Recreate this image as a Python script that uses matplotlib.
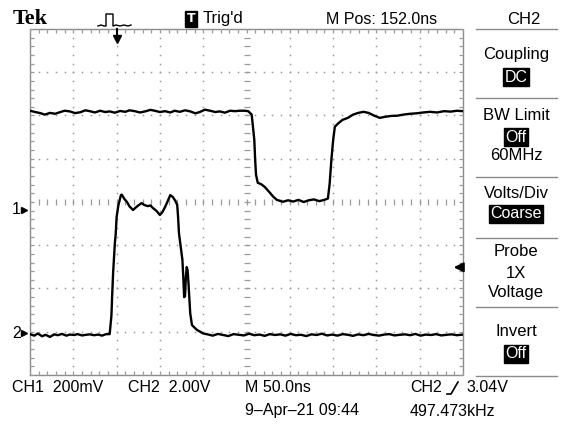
import matplotlib
matplotlib.use('Agg')
import matplotlib.pyplot as plt
import numpy as np

W, H = 571, 428
NARROW = ['Liberation Sans', 'DejaVu Sans']

# scope settings
ns_per_div = 50
ch1_v_per_div = 0.2
ch2_v_per_div = 2.0
ch1_ground_div = -0.18
ch2_ground_div = -3.03
trig_pos_ns = 100
trig_level_v = 3.04

# CH1 trace (time in ns, mV)
ch1_t = [0, 6, 12, 17, 23, 29, 35, 40, 46, 52, 58, 64, 69, 75, 81, 87, 92, 98, 104, 110,
         115, 121, 127, 133, 139, 144, 150, 156, 162, 167, 173, 179, 185, 191, 196, 202, 208, 214, 219, 225,
         231, 237, 242, 248, 252, 256, 259, 260, 261, 263, 267, 271, 277, 281, 285, 292, 298, 304, 310, 316,
         322, 328, 334, 340, 344, 346, 348, 350, 352, 356, 361, 367, 373, 379, 385, 391, 397, 404, 410, 417,
         424, 431, 439, 446, 454, 462, 470, 478, 486, 493, 500]
ch1_mv = [458, 452, 447, 440, 448, 444, 452, 458, 455, 447, 451, 460, 456, 450, 458, 452, 455, 449, 457, 453,
          460, 456, 450, 455, 462, 458, 452, 456, 450, 458, 453, 460, 455, 446, 452, 463, 458, 452, 455, 449,
          458, 456, 458, 458, 456, 440, 324, 231, 162, 125, 118, 106, 79, 60, 46, 37, 44, 38, 46, 36,
          44, 48, 40, 46, 52, 120, 230, 320, 384, 400, 416, 425, 440, 448, 453, 448, 436, 425, 430, 434,
          435, 440, 444, 446, 450, 453, 450, 456, 454, 458, 456]

# CH2 trace (time in ns, V)
ch2_t = [0, 5, 9, 14, 18, 23, 28, 32, 37, 42, 46, 51, 55, 60, 65, 69, 74, 79, 83, 88,
         92, 94, 95, 96, 98, 99, 100, 102, 105, 106, 109, 112, 115, 119, 122, 125, 129, 132, 136, 139,
         142, 146, 150, 153, 156, 159, 162, 165, 168, 170, 171, 172, 174, 176, 177, 178, 179, 180, 181, 182,
         183, 185, 187, 190, 193, 197, 200,
         205, 211, 217, 223, 229, 235, 241, 247, 253, 259, 265, 271, 277, 283, 289, 295, 301, 307, 313, 319,
         325, 331, 337, 343, 349, 355, 361, 367, 373, 379, 385, 391, 397, 403, 409, 415, 421, 427, 433, 439,
         445, 451, 457, 463, 469, 475, 481, 487, 493, 500]
ch2_v = [-0.05, -0.12, -0.02, -0.15, -0.08, -0.18, -0.06, -0.10, -0.04, -0.12, -0.07, -0.09, -0.05, -0.11, -0.08, -0.06, -0.10, -0.07, -0.12, -0.05,
         -0.05, 0.8, 1.85, 2.8, 4.16, 4.6, 5.36, 5.9, 6.38, 6.40, 6.2, 6.06, 5.85, 5.69, 5.8, 5.9, 6.01, 5.92, 5.87, 5.9,
         5.78, 5.65, 5.46, 5.6, 5.83, 6.1, 6.38, 6.29, 6.1, 5.92, 5.36, 4.62, 4.0, 3.38, 2.59, 1.66, 1.7, 2.6, 3.05, 2.9,
         2.31, 0.92, 0.37, 0.25, 0.14, 0.05, -0.02,
         -0.06, -0.12, -0.04, -0.09, -0.14, -0.05, -0.08, -0.11, -0.03, -0.10, -0.07, -0.13, -0.05, -0.09, -0.06, -0.12, -0.04, -0.10, -0.08, -0.14,
         -0.06, -0.09, -0.03, -0.11, -0.07, -0.12, -0.05, -0.08, -0.13, -0.06, -0.10, -0.04, -0.09, -0.12, -0.07, -0.05, -0.11, -0.08, -0.06, -0.10,
         -0.04, -0.12, -0.07, -0.09, -0.05, -0.11, -0.08, -0.06, -0.10, -0.07]

# side menu
menu = [('Coupling', 55, False), ('DC', 77, True),
        ('BW Limit', 115, False), ('Off', 137, True), ('60MHz', 156, False),
        ('Volts/Div', 193, False), ('Coarse', 214, True),
        ('Probe', 252, False), ('1X', 273, False), ('Voltage', 293, False),
        ('Invert', 332, False), ('Off', 354, True)]
menu_lines = [29, 98, 177, 238, 307, 376]


def fx(x):
    return x / W


def fy(y):
    return 1 - y / H


fig = plt.figure(figsize=(W / 100, H / 100), dpi=100)
ax = fig.add_axes([fx(30), fy(375), 433 / W, 346 / H])
ax.set_xlim(0, 10 * ns_per_div)
ax.set_ylim(-4, 4)
ax.axis('off')

grid_c = '#9a9a9a'
xs_fine = np.arange(0, 10.01, 0.2) * ns_per_div
ys_fine = np.arange(-4, 4.01, 0.2)

# dotted graticule
for i in range(1, 10):
    if i == 5:
        continue
    ax.plot(np.full_like(ys_fine, i * ns_per_div), ys_fine, ls='none', marker='s', ms=1.1, color=grid_c, mew=0)
for j in range(-3, 4):
    if j == 0:
        continue
    ax.plot(xs_fine, np.full_like(xs_fine, j), ls='none', marker='s', ms=1.1, color=grid_c, mew=0)

# centre cross with minor ticks
ax.plot(xs_fine, np.zeros_like(xs_fine), ls='none', marker='|', ms=5, color=grid_c, mew=0.9)
ax.plot(np.full_like(ys_fine, 5 * ns_per_div), ys_fine, ls='none', marker='_', ms=5, color=grid_c, mew=0.9)

# border with inward ticks
ax.plot([0, 500, 500, 0, 0], [-4, -4, 4, 4, -4], color='#8a8a8a', lw=1.0, clip_on=False)
ax.plot(xs_fine, np.full_like(xs_fine, 4), ls='none', marker='|', ms=6, color=grid_c, mew=0.9)
ax.plot(xs_fine, np.full_like(xs_fine, -4), ls='none', marker='|', ms=6, color=grid_c, mew=0.9)
ax.plot(np.zeros_like(ys_fine), ys_fine, ls='none', marker='_', ms=6, color=grid_c, mew=0.9)
ax.plot(np.full_like(ys_fine, 500), ys_fine, ls='none', marker='_', ms=6, color=grid_c, mew=0.9)

# traces
ch1_div = np.array(ch1_mv) / 1000 / ch1_v_per_div + ch1_ground_div
ch2_div = np.array(ch2_v) / ch2_v_per_div + ch2_ground_div
ax.plot(ch1_t, ch1_div, color='black', lw=1.7)
ax.plot(ch2_t, ch2_div, color='black', lw=1.7)

# trigger position / level markers
ax.plot([trig_pos_ns, trig_pos_ns], [4, 3.85], color='black', lw=1.5, clip_on=False)
ax.plot([trig_pos_ns], [3.78], marker='v', ms=6, color='black', clip_on=False)
trig_div = trig_level_v / ch2_v_per_div + ch2_ground_div
ax.annotate('', xy=(486, trig_div), xytext=(503, trig_div), annotation_clip=False,
            arrowprops=dict(arrowstyle='-|>', color='black', lw=1.5, mutation_scale=14))

# ground markers
for lab, g in (('1', ch1_ground_div), ('2', ch2_ground_div)):
    ax.plot([-7], [g], marker='>', ms=4, color='black', clip_on=False)
    ax.text(-16, g, lab, ha='center', va='center', fontsize=11.5, family=NARROW)

# header
fig.text(fx(13), fy(19), 'Tek', family='Liberation Serif', weight='bold', fontsize=16,
         va='center', ha='left')
px_x = np.array([98, 101, 104, 106, 106, 113, 113, 116, 120, 124, 128, 131])
px_y = np.array([26, 25, 26, 26, 14, 14, 26, 25, 26, 25, 26, 25])
fig.add_artist(plt.Line2D(fx(px_x), fy(px_y), color='black', lw=1.0, transform=fig.transFigure))
fig.text(fx(191), fy(19), 'T', color='white', fontsize=9, weight='bold', ha='center', va='center',
         bbox=dict(boxstyle='square,pad=0.15', fc='black', ec='black'))
fig.text(fx(203), fy(19), "Trig'd", fontsize=12, family=NARROW, va='center', ha='left')
fig.text(fx(326), fy(19), 'M Pos: 152.0ns', fontsize=11.5, family=NARROW, va='center', ha='left')
fig.text(fx(524), fy(19), 'CH2', fontsize=12, family=NARROW, va='center', ha='center')

# side menu
for y in menu_lines:
    fig.add_artist(plt.Line2D([fx(476), fx(557)], [fy(y), fy(y)], color='#8a8a8a', lw=1.0,
                              transform=fig.transFigure))
for txt, y, boxed in menu:
    if boxed:
        fig.text(fx(516), fy(y), txt, fontsize=11.5, family=NARROW, color='white', ha='center',
                 va='center', bbox=dict(boxstyle='square,pad=0.1', fc='black', ec='black'))
    else:
        fig.text(fx(516), fy(y), txt, fontsize=12, family=NARROW, ha='center', va='center')

# footer
fig.text(fx(12), fy(388), 'CH1  200mV', fontsize=11.5, family=NARROW, va='center')
fig.text(fx(128), fy(388), 'CH2  2.00V', fontsize=11.5, family=NARROW, va='center')
fig.text(fx(245), fy(388), 'M 50.0ns', fontsize=11.5, family=NARROW, va='center')
fig.text(fx(410), fy(388), 'CH2', fontsize=11.5, family=NARROW, va='center')
# rising-edge slope glyph
fig.add_artist(plt.Line2D(fx(np.array([447, 451, 458])), fy(np.array([394, 394, 382])),
                          color='black', lw=1.2, transform=fig.transFigure))
fig.text(fx(466), fy(388), '3.04V', fontsize=11.5, family=NARROW, va='center')
fig.text(fx(245), fy(411), '9\u2013Apr\u201321 09:44', fontsize=11.5, family=NARROW, va='center')
fig.text(fx(410), fy(411), '497.473kHz', fontsize=11.5, family=NARROW, va='center')

fig.savefig('out.png', dpi=100, facecolor='white')
